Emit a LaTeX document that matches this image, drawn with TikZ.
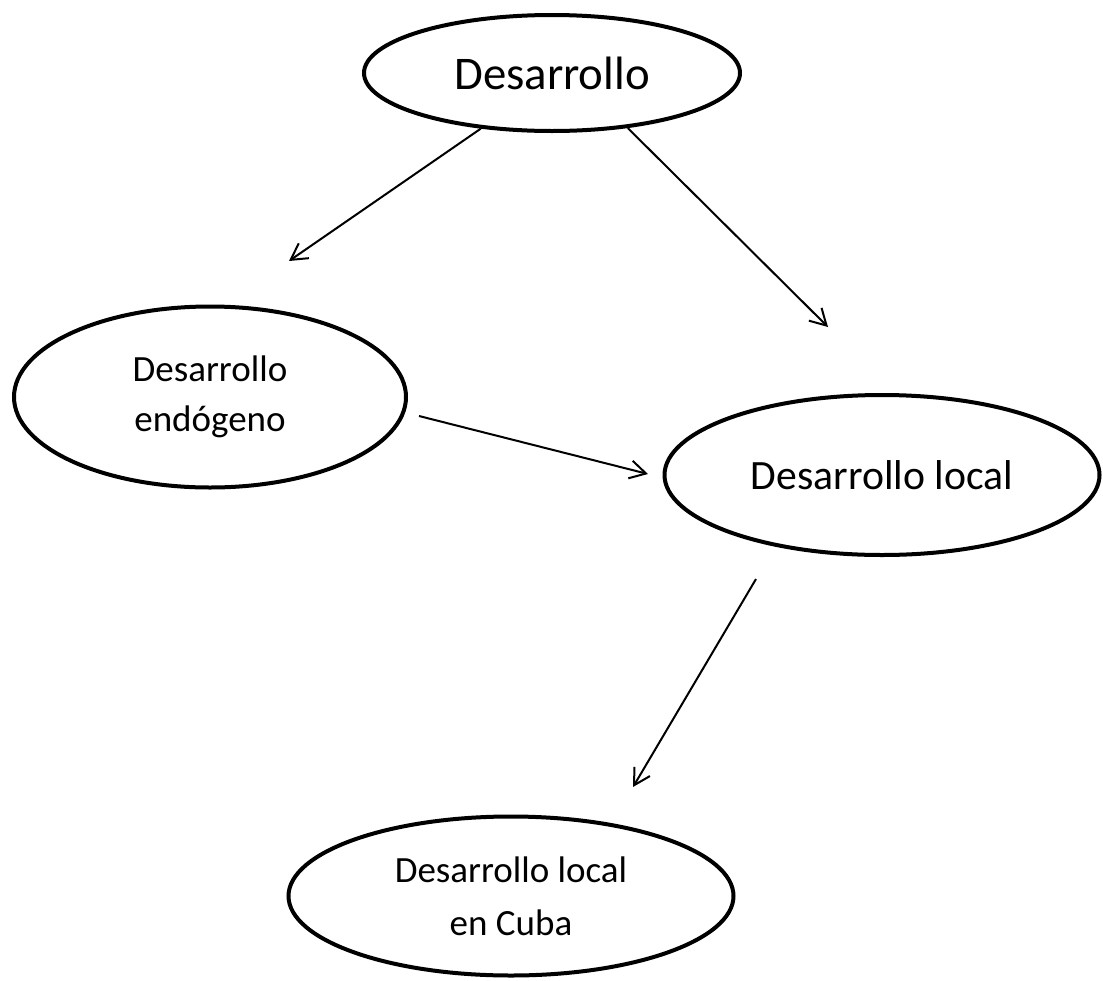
\documentclass[tikz,border=0pt]{standalone}
\usepackage{fontspec}
\setmainfont{Carlito}
\usetikzlibrary{shapes.geometric,arrows.meta}

\begin{document}
\begin{tikzpicture}[x=0.5pt, y=-0.5pt,
        >={Straight Barb[length=8pt,width=9pt]},
        elip/.style={ellipse, draw, line width=2pt, inner sep=0pt, align=center},
        flecha/.style={->, line width=1pt}]
        \useasboundingbox (0,0) rectangle (1103,980);

        \node [elip, minimum width=188pt, minimum height=58pt, font=\fontsize{23.4}{28}\selectfont] (1) at (552,73) {Desarrollo};
        \node [elip, minimum width=196pt, minimum height=90.5pt, font=\fontsize{18.5}{25}\selectfont] (2) at (210,397) {Desarrollo\\endógeno};
        \node [elip, minimum width=217.5pt, minimum height=80pt, font=\fontsize{20.85}{25}\selectfont] (3) at (882,475) {Desarrollo local};
        \node [elip, minimum width=222.5pt, minimum height=79.5pt, font=\fontsize{18.5}{26.5}\selectfont] (4) at (511,896) {Desarrollo local\\en Cuba};

        \coordinate (2a) at (289,261);
        \coordinate (3a) at (828,327);
        \coordinate (2b) at (419,416);
        \coordinate (3b) at (648,474);
        \coordinate (3c) at (756,579);
        \coordinate (4a) at (633,787);

        \draw[flecha] (1.218) -- (2a);
        \draw[flecha] (1.324) -- (3a);
        \draw[flecha] (2b) -- (3b);
        \draw[flecha] (3c) -- (4a);
      \end{tikzpicture}
\end{document}
